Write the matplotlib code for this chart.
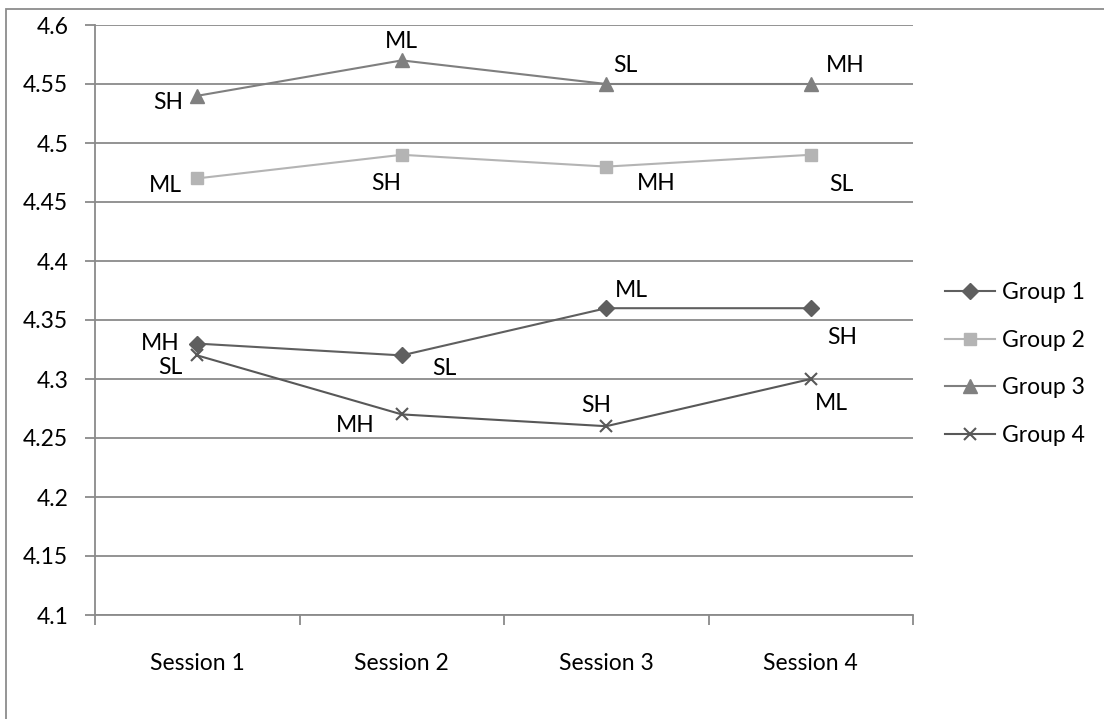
import matplotlib
matplotlib.use("Agg")
import matplotlib.pyplot as plt
from matplotlib.patches import Rectangle

plt.rcParams['font.family'] = ['Lato', 'DejaVu Sans']

# data
sessions = ["Session 1", "Session 2", "Session 3", "Session 4"]
group_names = ["Group 1", "Group 2", "Group 3", "Group 4"]
group1 = [4.33, 4.32, 4.36, 4.36]
group2 = [4.47, 4.49, 4.48, 4.49]
group3 = [4.54, 4.57, 4.55, 4.55]
group4 = [4.32, 4.27, 4.26, 4.30]
labels1 = ["MH", "SL", "ML", "SH"]
labels2 = ["ML", "SH", "MH", "SL"]
labels3 = ["SH", "ML", "SL", "MH"]
labels4 = ["SL", "MH", "SH", "ML"]
yticks = [4.1, 4.15, 4.2, 4.25, 4.3, 4.35, 4.4, 4.45, 4.5, 4.55, 4.6]
ytick_labels = ["4.1", "4.15", "4.2", "4.25", "4.3", "4.35", "4.4", "4.45", "4.5", "4.55", "4.6"]

# label placement (pixel offsets of the text centre: right, down)
offsets1 = [(-37, -3), (43, 10), (25, -21), (31, 26)]
offsets2 = [(-32, 4), (-16, 26), (50, 14), (31, 27)]
offsets3 = [(-29, 4), (0, -22), (19, -21), (34, -22)]
offsets4 = [(-27, 9), (-46, 8), (-10, -24), (21, 22)]

FS = 16.5
GRID = "#8a8a8a"

fig = plt.figure(figsize=(11.04, 7.19), dpi=100)
ax = fig.add_axes([95 / 1104, 1 - 615 / 719, 818 / 1104, 590 / 719])

# outer chart frame (only top and left edges are in view)
fig.patches.append(Rectangle((6 / 1104, -0.2), 1.2, 1.2 - 9 / 719,
                             transform=fig.transFigure, fill=False,
                             edgecolor="#8c8c8c", lw=1.3))

x = list(range(len(sessions)))
series = [
    (group1, labels1, offsets1, "#5f5f5f", "#5f5f5f", "D", 8),
    (group2, labels2, offsets2, "#b4b4b4", "#b4b4b4", "s", 9),
    (group3, labels3, offsets3, "#7f7f7f", "#808080", "^", 10),
    (group4, labels4, offsets4, "#585858", "#585858", "x", 9),
]
for (vals, labs, offs, lc, mc, mk, ms), name in zip(series, group_names):
    ax.plot(x, vals, color=lc, lw=1.5, marker=mk, ms=ms, mfc=mc, mec=mc,
            mew=1.5 if mk == "x" else 1, label=name, zorder=3)
    for xi, v, lab, (dx, dy) in zip(x, vals, labs, offs):
        ax.annotate(lab, (xi, v), xytext=(dx, -dy - 1), textcoords="offset pixels",
                    ha="center", va="center_baseline", fontsize=FS, color="black",
                    zorder=4)

ax.set_xlim(-0.5, 3.5)
ax.set_ylim(4.1, 4.6)
ax.set_yticks(yticks)
ax.set_yticklabels(ytick_labels)
ax.yaxis.grid(True, color=GRID, lw=1.3)
ax.set_axisbelow(True)

ax.set_xticks([-0.5, 0.5, 1.5, 2.5, 3.5])
ax.set_xticklabels([])
ax.set_xticks(x, minor=True)
ax.set_xticklabels(sessions, minor=True)
ax.tick_params(axis="x", which="major", length=7, width=1.3, color=GRID, direction="out")
ax.tick_params(axis="x", which="minor", length=0, pad=27, labelsize=FS)
ax.tick_params(axis="y", length=7.2, width=1.3, color=GRID, pad=12, labelsize=FS)

for side in ["top", "right"]:
    ax.spines[side].set_visible(False)
for side in ["left", "bottom"]:
    ax.spines[side].set_color(GRID)
    ax.spines[side].set_linewidth(1.3)

ax.legend(loc="center left", bbox_to_anchor=(945 / 1104, 1 - 364 / 719),
          bbox_transform=fig.transFigure, frameon=False, fontsize=FS,
          borderpad=0, borderaxespad=0, labelspacing=1.15, handlelength=2.2,
          handletextpad=0.3)

plt.savefig("out.png", dpi=100)
